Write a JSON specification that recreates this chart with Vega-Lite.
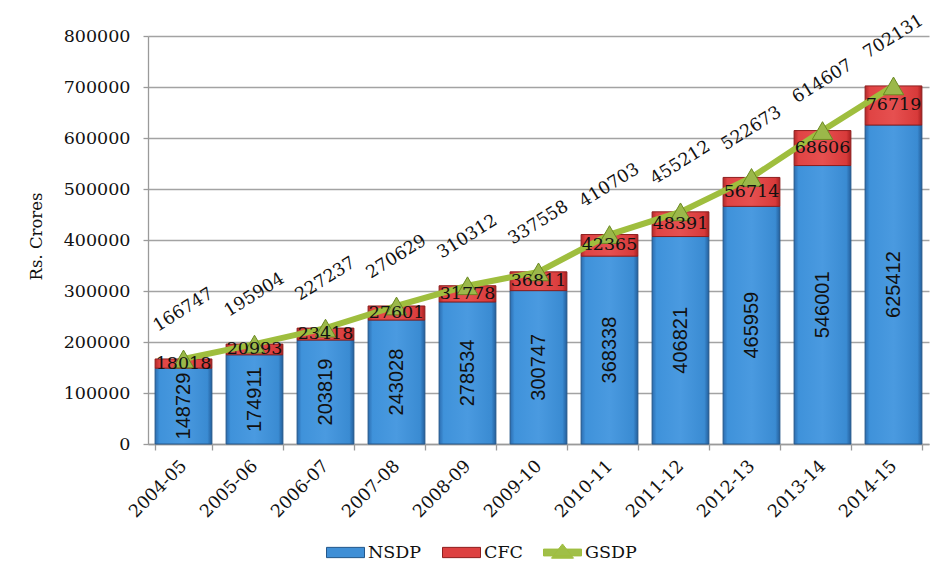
{
  "$schema": "https://vega.github.io/schema/vega-lite/v6.json",
  "autosize": {"type": "none"},
  "width": 781,
  "height": 408,
  "padding": {"left": 148, "top": 36, "right": 6, "bottom": 129},
  "background": "white",
  "config": {
    "view": {"stroke": null},
    "font": "DejaVu Serif",
    "axis": {"labelFont": "DejaVu Serif", "labelFontSize": 17.5, "labelColor": "#111", "domainColor": "#9a9a9a", "tickColor": "#9a9a9a", "domainWidth": 1.3, "tickWidth": 1.3},
    "axisY": {"titleX": -112, "titleY": 200, "titleAngle": -90, "titleAlign": "center", "titleBaseline": "middle", "titleFont": "DejaVu Serif", "titleFontSize": 16.5, "titleFontWeight": "normal", "titleColor": "#111", "gridColor": "#a3a3a3", "gridWidth": 1.3, "tickSize": 5, "labelPadding": 13}
  },
  "data": {"values": [
    {"year": "2004-05", "NSDP": 148729, "CFC": 18018, "GSDP": 166747},
    {"year": "2005-06", "NSDP": 174911, "CFC": 20993, "GSDP": 195904},
    {"year": "2006-07", "NSDP": 203819, "CFC": 23418, "GSDP": 227237},
    {"year": "2007-08", "NSDP": 243028, "CFC": 27601, "GSDP": 270629},
    {"year": "2008-09", "NSDP": 278534, "CFC": 31778, "GSDP": 310312},
    {"year": "2009-10", "NSDP": 300747, "CFC": 36811, "GSDP": 337558},
    {"year": "2010-11", "NSDP": 368338, "CFC": 42365, "GSDP": 410703},
    {"year": "2011-12", "NSDP": 406821, "CFC": 48391, "GSDP": 455212},
    {"year": "2012-13", "NSDP": 465959, "CFC": 56714, "GSDP": 522673},
    {"year": "2013-14", "NSDP": 546001, "CFC": 68606, "GSDP": 614607},
    {"year": "2014-15", "NSDP": 625412, "CFC": 76719, "GSDP": 702131}
  ]},
  "encoding": {
    "x": {"field": "year", "type": "nominal", "sort": null, "title": null,
      "scale": {"paddingInner": 0.2, "paddingOuter": 0.1},
      "axis": {"labelAngle": -45, "labelAlign": "right", "labelBaseline": "middle", "tickBand": "extent", "tickSize": 6, "labelPadding": 13, "grid": false}}
  },
  "layer": [
    {
      "mark": {"type": "bar", "strokeWidth": 1, "stroke": "#24578a",
        "fill": {"gradient": "linear", "x1": 0, "y1": 0, "x2": 1, "y2": 0, "stops": [
          {"offset": 0, "color": "#2c6db0"}, {"offset": 0.08, "color": "#3f92da"}, {"offset": 0.5, "color": "#4a9ae0"}, {"offset": 0.92, "color": "#3a8bd2"}, {"offset": 1, "color": "#245f9c"}]}},
      "encoding": {
        "y": {"field": "NSDP", "type": "quantitative", "stack": null, "title": "Rs. Crores",
          "scale": {"domain": [0, 800000], "nice": false},
          "axis": {"values": [0, 100000, 200000, 300000, 400000, 500000, 600000, 700000, 800000], "format": "d"}}
      }
    },
    {
      "mark": {"type": "bar", "strokeWidth": 1, "stroke": "#8e1f1f",
        "fill": {"gradient": "linear", "x1": 0, "y1": 0, "x2": 1, "y2": 0, "stops": [
          {"offset": 0, "color": "#b52828"}, {"offset": 0.08, "color": "#e04444"}, {"offset": 0.5, "color": "#e65050"}, {"offset": 0.92, "color": "#d83a3a"}, {"offset": 1, "color": "#a82020"}]}},
      "encoding": {
        "y": {"field": "NSDP", "type": "quantitative", "stack": null, "title": "Rs. Crores"},
        "y2": {"field": "GSDP"}
      }
    },
    {
      "mark": {"type": "line", "strokeWidth": 6},
      "encoding": {
        "y": {"field": "GSDP", "type": "quantitative", "title": "Rs. Crores"},
        "stroke": {"datum": "GSDP", "type": "nominal",
          "scale": {"domain": ["NSDP", "CFC", "GSDP"], "range": ["#24578a", "#8e1f1f", "#9fbe3e"]},
          "legend": {"orient": "none", "legendX": 178, "legendY": 497, "direction": "horizontal", "title": null,
            "labelFont": "DejaVu Serif", "labelFontSize": 17.5, "labelColor": "#111", "symbolSize": 1444, "columnPadding": 18, "labelOffset": 3,
            "encode": {"symbols": {"update": {
              "shape": {"signal": "datum.value === 'GSDP' ? 'M-1,-0.18H1V0.18H-1Z M-0.58,0.3L0,-0.45L0.58,0.3Z' : 'M-1,-0.27H1V0.27H-1Z'"},
              "fill": {"signal": "datum.value === 'NSDP' ? '#3f8fd6' : (datum.value === 'CFC' ? '#dd4040' : '#a0bf48')"},
              "stroke": {"signal": "datum.value === 'NSDP' ? '#24578a' : (datum.value === 'CFC' ? '#8e1f1f' : '#8aa83a')"},
              "strokeWidth": {"value": 1},
              "opacity": {"value": 1}}}}}}
      }
    },
    {
      "mark": {"type": "point", "shape": "triangle-up", "filled": true, "fill": "#9bb84a", "stroke": "#6b8a22", "strokeWidth": 1, "size": 420, "opacity": 1},
      "encoding": {
        "y": {"field": "GSDP", "type": "quantitative", "title": "Rs. Crores"}
      }
    },
    {
      "transform": [{"fold": ["NSDP", "CFC"], "as": ["key", "value"]}],
      "mark": {"type": "text", "font": "Liberation Sans", "fontSize": 20, "angle": 270, "align": "center", "baseline": "middle", "color": "#111"},
      "encoding": {
        "y": {"field": "value", "type": "quantitative", "stack": "zero", "bandPosition": 0.5, "title": "Rs. Crores"},
        "order": {"field": "key", "sort": "descending"},
        "detail": {"field": "key"},
        "text": {"condition": {"test": "datum.key === 'NSDP'", "field": "value", "type": "quantitative", "format": "d"}, "value": ""}
      }
    },
    {
      "transform": [{"fold": ["NSDP", "CFC"], "as": ["key", "value"]}],
      "mark": {"type": "text", "font": "DejaVu Serif", "fontSize": 17.5, "align": "center", "baseline": "middle", "color": "#111"},
      "encoding": {
        "y": {"field": "value", "type": "quantitative", "stack": "zero", "bandPosition": 0.5, "title": "Rs. Crores"},
        "order": {"field": "key", "sort": "descending"},
        "detail": {"field": "key"},
        "text": {"condition": {"test": "datum.key === 'CFC'", "field": "value", "type": "quantitative", "format": "d"}, "value": ""}
      }
    },
    {
      "mark": {"type": "text", "font": "DejaVu Serif", "fontSize": 17.5, "align": "center", "baseline": "middle", "angle": 328, "yOffset": -49, "color": "#111"},
      "encoding": {
        "y": {"field": "GSDP", "type": "quantitative", "title": "Rs. Crores"},
        "text": {"field": "GSDP", "type": "quantitative", "format": "d"}
      }
    }
  ]
}
